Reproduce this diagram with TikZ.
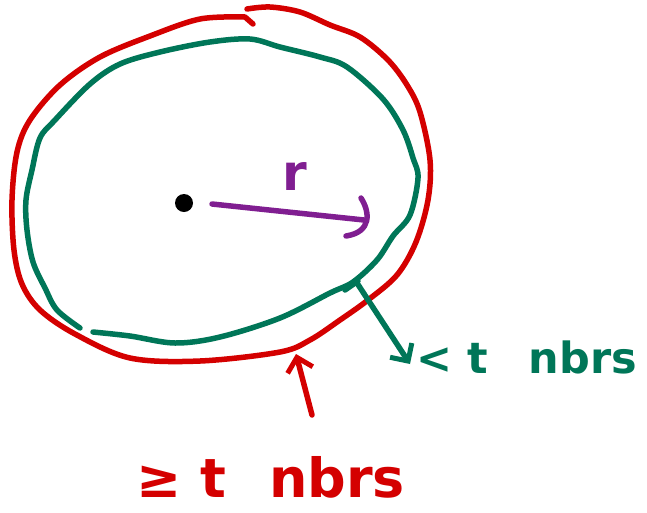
\documentclass[tikz,border=0pt]{standalone}
\usepackage{fontspec}
\setmainfont{DejaVu Sans}
\usetikzlibrary{arrows.meta}
\definecolor{penred}{RGB}{212,0,0}
\definecolor{pengreen}{RGB}{0,118,88}
\definecolor{penpurple}{RGB}{128,30,145}
\tikzset{
  stroke/.style={line width=5.5pt, line cap=round, line join=round},
  redpen/.style={stroke, draw=penred},
  greenpen/.style={stroke, draw=pengreen},
  purplepen/.style={stroke, draw=penpurple},
  lbl/.style={inner sep=0pt, anchor=base west, font=\bfseries},
  tip/.style={-{Straight Barb[length=13pt,width=26pt,line width=5pt]}}
}
\begin{document}
\begin{tikzpicture}[x=1pt,y=-1pt]
\useasboundingbox (0,0) rectangle (647,512);
% red outer circle (open at the top)
\draw[redpen] plot[smooth, tension=0.55] coordinates {
 (247,9) (270,7) (300,12) (330,25) (360,37) (388,60) (407,85) (420,112)
 (430,160) (428,200) (416,242) (397,275) (368,300) (340,320) (310,340)
 (280,352) (200,361) (130,358) (75,334) (40,310) (22,284) (14,250)
 (12,200) (17,152) (30,120) (60,85) (100,57) (150,36) (200,19) (245,17)}
 -- (253,24);
% green inner circle (open at bottom left)
\draw[greenpen] plot[smooth, tension=0.55] coordinates {
 (93,332) (130,336) (175,343) (220,337) (280,318) (330,293) (353,282)
 (377,260) (393,236) (410,215) (418,178) (413,158) (403,130) (383,99)
 (347,67) (320,57) (280,47) (250,39) (210,42) (160,52) (120,64) (90,84)
 (55,120) (40,138) (32,170) (26,200) (27,230) (33,262) (45,288) (57,310)
 (80,328)};
% centre dot
\node[circle, fill=black, minimum size=18pt, inner sep=0pt] (c) at (184,203) {};
% radius
\coordinate (r0) at (212,204);
\coordinate (r1) at (364,220);
\draw[purplepen] (r0) -- (r1);
\draw[purplepen] (361,198) .. controls (370,212) and (372,232) .. (346,236);
\node[lbl, text=penpurple, font=\bfseries\fontsize{50}{50}\selectfont] (rl) at (282,190) {r};
% green arrow
\coordinate (g0) at (357,283);
\coordinate (g1) at (410,364);
\draw[greenpen, tip] (g0) -- (g1);
\draw[greenpen] (345,290) -- (358,281);
\node[lbl, text=pengreen, font=\bfseries\fontsize{43}{43}\selectfont] (gl) at (416,373) {< t\hspace{0.95em}nbrs};
% red arrow
\coordinate (a0) at (312,415);
\coordinate (a1) at (296,354);
\draw[redpen, tip] (a0) -- (a1);
\node[lbl, text=penred, font=\bfseries\fontsize{54}{54}\selectfont] (rl2) at (136,497) {≥ t\hspace{0.8em}nbrs};
\end{tikzpicture}
\end{document}
